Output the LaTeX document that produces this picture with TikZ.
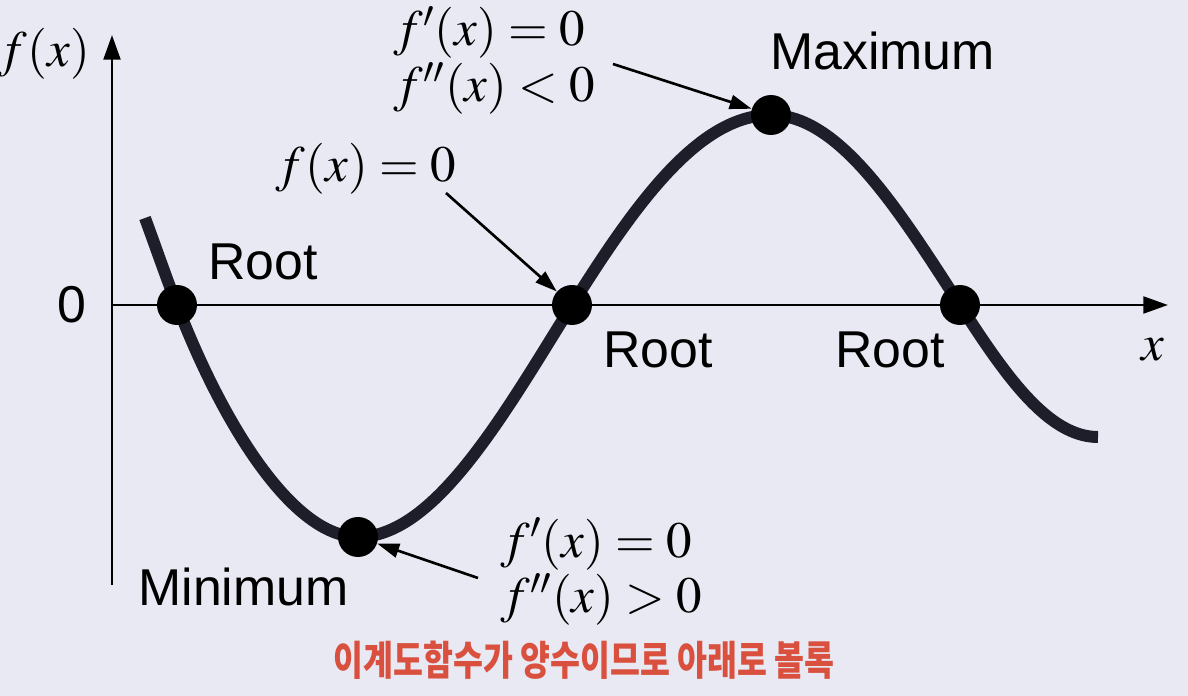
\documentclass[tikz,border=0pt]{standalone}
\usepackage{mathptmx}
\usepackage[no-math]{fontspec}
\setsansfont{Liberation Sans}
\newfontfamily\krfont{Noto Sans CJK KR}
\usetikzlibrary{arrows.meta}
\definecolor{bg}{HTML}{E9E9F3}
\definecolor{curvecol}{HTML}{1E1E2A}
\definecolor{krred}{HTML}{D9503F}
\tikzset{
  axis/.style={line width=1.7pt, black, -{Triangle[length=14pt,width=9.5pt]}},
  curve/.style={line width=6.8pt, curvecol},
  dot/.style={circle, fill=black, inner sep=0pt, minimum size=0.8cm},
  pointer/.style={line width=1.5pt, black, -{Triangle[length=12.5pt,width=8pt]}},
  lbl/.style={inner sep=0pt, font=\sffamily\fontsize{29.5}{35}\selectfont},
  eq/.style={inner sep=0pt, font=\fontsize{29}{31.2}\selectfont},
  kr/.style={inner sep=0pt, text=krred, font=\krfont\bfseries\fontsize{18.5}{22}\selectfont}
}
\begin{document}
\begin{tikzpicture}[x=0.02cm,y=-0.02cm]
\useasboundingbox (0,0) rectangle (1188,696);
\fill[bg] (0,0) rectangle (1188,696);
% axes
\coordinate (yb) at (112,585);
\coordinate (yt) at (112,35);
\coordinate (xl) at (112,305);
\coordinate (xr) at (1168,305);
\draw[axis] (yb) -- (yt);
\draw[axis] (xl) -- (xr);
% curve
\draw[curve] (145,218) .. controls (155,245) and (167,280) .. (177,305)
  .. controls (222,422) and (292,537) .. (358,537)
  .. controls (435,537) and (504,414) .. (572,305)
  .. controls (636,203) and (699,115) .. (771,115)
  .. controls (839,115) and (898,209) .. (960,305)
  .. controls (1005,375) and (1048,437) .. (1098,437);
% dots
\node[dot] (r1) at (177,305) {};
\node[dot] (r2) at (572,305) {};
\node[dot] (r3) at (960,305) {};
\node[dot] (mn) at (358,537) {};
\node[dot] (mx) at (771,115) {};
% pointers
\coordinate (tmx) at (613,64);
\coordinate (tr2) at (446,193);
\coordinate (tmn) at (478,578);
\draw[pointer] (tmx) -- (mx);
\draw[pointer] (tr2) -- (r2);
\draw[pointer] (tmn) -- (mn);
% labels
\node[eq] (fx) at (44,54) {$f(x)$};
\node[lbl] (zero) at (72,305) {0};
\node[eq] (xlab) at (1153,350) {$x$};
\node[lbl, anchor=base west] (lr1) at (208,279) {Root};
\node[lbl, anchor=base west] (lr2) at (603,367) {Root};
\node[lbl, anchor=base west] (lr3) at (835,367) {Root};
\node[lbl, anchor=base west] (lmax) at (770,70) {Maximum};
\node[lbl, anchor=base west] (lmin) at (138,605) {Minimum};
\node[eq, anchor=base west] (emax) at (394,46)
  {$\begin{array}[t]{@{}l@{}} f'(x) = 0\\ f''(x) < 0\end{array}$};
\node[eq, anchor=base west] (e3) at (276,182) {$f(x) = 0$};
\node[eq, anchor=base west] (emin) at (501,557)
  {$\begin{array}[t]{@{}l@{}} f'(x) = 0\\ f''(x) > 0\end{array}$};
\node[kr] (note) at (584,660) {\scalebox{1}[1.25]{이계도함수가 양수이므로 아래로 볼록}};
\end{tikzpicture}
\end{document}
